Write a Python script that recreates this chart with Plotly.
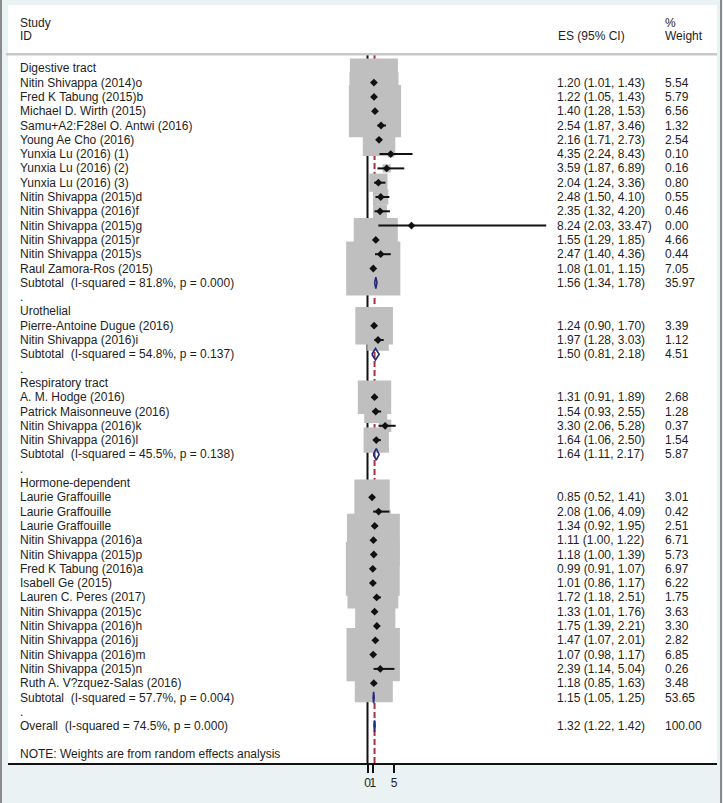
import math

import plotly.graph_objects as go

# ---- data -------------------------------------------------------------
group_names = ["Digestive tract", "Urothelial", "Respiratory tract", "Hormone-dependent"]
group_sizes = [14, 2, 4, 14]

study_labels = [
    "Nitin Shivappa (2014)o", "Fred K Tabung (2015)b", "Michael D. Wirth (2015)",
    "Samu+A2:F28el O. Antwi (2016)", "Young Ae Cho (2016)", "Yunxia Lu (2016) (1)",
    "Yunxia Lu (2016) (2)", "Yunxia Lu (2016) (3)", "Nitin Shivappa (2015)d",
    "Nitin Shivappa (2016)f", "Nitin Shivappa (2015)g", "Nitin Shivappa (2015)r",
    "Nitin Shivappa (2015)s", "Raul Zamora-Ros (2015)",
    "Pierre-Antoine Dugue (2016)", "Nitin Shivappa (2016)i",
    "A. M. Hodge (2016)", "Patrick Maisonneuve (2016)", "Nitin Shivappa (2016)k",
    "Nitin Shivappa (2016)l",
    "Laurie Graffouille", "Laurie Graffouille", "Laurie Graffouille",
    "Nitin Shivappa (2016)a", "Nitin Shivappa (2015)p", "Fred K Tabung (2016)a",
    "Isabell Ge (2015)", "Lauren C. Peres (2017)", "Nitin Shivappa (2015)c",
    "Nitin Shivappa (2016)h", "Nitin Shivappa (2016)j", "Nitin Shivappa (2016)m",
    "Nitin Shivappa (2015)n", "Ruth A. V?zquez-Salas (2016)",
]
study_es = [1.20, 1.22, 1.40, 2.54, 2.16, 4.35, 3.59, 2.04, 2.48, 2.35, 8.24, 1.55, 2.47, 1.08,
            1.24, 1.97,
            1.31, 1.54, 3.30, 1.64,
            0.85, 2.08, 1.34, 1.11, 1.18, 0.99, 1.01, 1.72, 1.33, 1.75, 1.47, 1.07, 2.39, 1.18]
study_lo = [1.01, 1.05, 1.28, 1.87, 1.71, 2.24, 1.87, 1.24, 1.50, 1.32, 2.03, 1.29, 1.40, 1.01,
            0.90, 1.28,
            0.91, 0.93, 2.06, 1.06,
            0.52, 1.06, 0.92, 1.00, 1.00, 0.91, 0.86, 1.18, 1.01, 1.39, 1.07, 0.98, 1.14, 0.85]
study_hi = [1.43, 1.43, 1.53, 3.46, 2.73, 8.43, 6.89, 3.36, 4.10, 4.20, 33.47, 1.85, 4.36, 1.15,
            1.70, 3.03,
            1.89, 2.55, 5.28, 2.50,
            1.41, 4.09, 1.95, 1.22, 1.39, 1.07, 1.17, 2.51, 1.76, 2.21, 2.01, 1.17, 5.04, 1.63]
study_weight = [5.54, 5.79, 6.56, 1.32, 2.54, 0.10, 0.16, 0.80, 0.55, 0.46, 0.00, 4.66, 0.44, 7.05,
                3.39, 1.12,
                2.68, 1.28, 0.37, 1.54,
                3.01, 0.42, 2.51, 6.71, 5.73, 6.97, 6.22, 1.75, 3.63, 3.30, 2.82, 6.85, 0.26, 3.48]

subtotal_i2 = [81.8, 54.8, 45.5, 57.7]
subtotal_p = [0.000, 0.137, 0.138, 0.004]
subtotal_es = [1.56, 1.50, 1.64, 1.15]
subtotal_lo = [1.34, 0.81, 1.11, 1.05]
subtotal_hi = [1.78, 2.18, 2.17, 1.25]
subtotal_weight = [35.97, 4.51, 5.87, 53.65]

overall_i2 = 74.5
overall_p = 0.000
overall_es, overall_lo, overall_hi = 1.32, 1.22, 1.42
overall_weight = 100.00

x_ticks = [0, 1, 5]

# ---- geometry / style ---------------------------------------------------
W, H = 723, 803
M_L, M_R, M_T, M_B = 8, 6, 5, 40
X0_PX, PX_PER_UNIT = 367.5, 5.34
ROW1_PX, ROW_PX = 68.3, 14.3
BOX_K = 20.4          # box side in px = BOX_K * sqrt(weight)
DIA_H = 0.4           # half height of pooled diamonds, in rows

FONT = "Liberation Sans, Arial, sans-serif"
TEXT_COLOR = "#1e1e1e"
NAVY = "#22297a"
RED = "#a5323f"


def paper_x(px):
    return (px - M_L) / (W - M_L - M_R)


def paper_y(py):
    return (H - M_B - py) / (H - M_T - M_B)


def row_of(py):
    return 1 + (py - ROW1_PX) / ROW_PX


# ---- build the table rows ------------------------------------------------
labels, es_text, wt_text, label_rows = [], [], [], []
st_rows, sub_rows = [], []
row = 1
k = 0
for g, name in enumerate(group_names):
    labels.append(name); es_text.append(""); wt_text.append(""); label_rows.append(row)
    row += 1
    for _ in range(group_sizes[g]):
        labels.append(study_labels[k])
        es_text.append(f"{study_es[k]:.2f} ({study_lo[k]:.2f}, {study_hi[k]:.2f})")
        wt_text.append(f"{study_weight[k]:.2f}")
        label_rows.append(row)
        st_rows.append(row)
        row += 1
        k += 1
    labels.append(f"Subtotal\u00a0 (I-squared = {subtotal_i2[g]:.1f}%, p = {subtotal_p[g]:.3f})")
    es_text.append(f"{subtotal_es[g]:.2f} ({subtotal_lo[g]:.2f}, {subtotal_hi[g]:.2f})")
    wt_text.append(f"{subtotal_weight[g]:.2f}")
    label_rows.append(row)
    sub_rows.append(row)
    row += 1
    labels.append("."); es_text.append(""); wt_text.append(""); label_rows.append(row)
    row += 1

overall_row = row
labels.append(f"Overall\u00a0 (I-squared = {overall_i2:.1f}%, p = {overall_p:.3f})")
es_text.append(f"{overall_es:.2f} ({overall_lo:.2f}, {overall_hi:.2f})")
wt_text.append(f"{overall_weight:.2f}")
label_rows.append(row)

fig = go.Figure()

# weight boxes
fig.add_trace(go.Scatter(
    x=study_es, y=st_rows, mode="markers",
    marker=dict(symbol="square", color="#bfbfbf", opacity=1,
                size=[BOX_K * math.sqrt(w) for w in study_weight], line=dict(width=0)),
    hoverinfo="skip",
))

# confidence intervals
ci_x, ci_y = [], []
for lo, hi, r in zip(study_lo, study_hi, st_rows):
    ci_x += [lo, hi, None]
    ci_y += [r, r, None]
fig.add_trace(go.Scatter(x=ci_x, y=ci_y, mode="lines",
                         line=dict(color="#111111", width=2), hoverinfo="skip"))

# point estimates
fig.add_trace(go.Scatter(
    x=study_es, y=st_rows, mode="markers",
    marker=dict(symbol="diamond", color="#111111", size=6, opacity=1, line=dict(width=0)),
    hovertemplate="%{x:.2f}<extra></extra>",
))

# pooled diamonds
d_x, d_y = [], []
for es, lo, hi, r in zip(subtotal_es + [overall_es], subtotal_lo + [overall_lo],
                         subtotal_hi + [overall_hi], sub_rows + [overall_row]):
    d_x += [lo, es, hi, es, lo, None]
    d_y += [r, r - DIA_H, r, r + DIA_H, r, None]
fig.add_trace(go.Scatter(x=d_x, y=d_y, mode="lines",
                         line=dict(color=NAVY, width=1.6), hoverinfo="skip"))

# ---- text columns --------------------------------------------------------
ann = []


def add_text(text, px, r, yref="y"):
    ann.append(dict(text=text, x=paper_x(px), xref="paper", y=r, yref=yref,
                    xanchor="left", yanchor="middle", showarrow=False,
                    font=dict(family=FONT, size=12, color=TEXT_COLOR)))


for lab, es, wt, r in zip(labels, es_text, wt_text, label_rows):
    add_text(lab, 18, r)
    if es:
        add_text(es, 555, r)
        add_text(wt, 663, r)

add_text("Study", 18, row_of(22.7))
add_text("ID", 18, row_of(35.5))
add_text("ES (95% CI)", 556, row_of(35.5))
add_text("%", 663, row_of(22.7))
add_text("Weight", 663, row_of(35.5))
add_text("NOTE: Weights are from random effects analysis", 18, row_of(754))

# ---- lines and frame -----------------------------------------------------
shapes = [
    dict(type="line", xref="x", yref="paper", x0=0, x1=0, y0=0, y1=paper_y(55),
         line=dict(color="#111111", width=2), layer="below"),
    dict(type="line", xref="x", yref="paper", x0=overall_es, x1=overall_es,
         y0=0, y1=paper_y(55), line=dict(color=RED, width=2, dash="6px,3px"), layer="below"),
    dict(type="line", xref="paper", yref="paper", x0=paper_x(6), x1=1,
         y0=paper_y(54.3), y1=paper_y(54.3), line=dict(color="#c8c8c8", width=2.5)),
    dict(type="line", xref="paper", yref="paper", x0=paper_x(1), x1=paper_x(1),
         y0=-1, y1=2, line=dict(color="#8a8a8a", width=2)),
    dict(type="line", xref="paper", yref="paper", x0=paper_x(721), x1=paper_x(721),
         y0=-1, y1=2, line=dict(color="#8a8a8a", width=2)),
]

fig.update_layout(
    width=W, height=H,
    margin=dict(l=M_L, r=M_R, t=M_T, b=M_B),
    paper_bgcolor="#eaf2f3",
    plot_bgcolor="#ffffff",
    showlegend=False,
    annotations=ann,
    shapes=shapes,
    xaxis=dict(
        range=[(M_L - X0_PX) / PX_PER_UNIT, (W - M_R - X0_PX) / PX_PER_UNIT],
        tickvals=x_ticks, ticktext=[str(t) for t in x_ticks], tickangle=0,
        ticks="outside", ticklen=8, tickwidth=2, tickcolor="#111111",
        showline=True, linecolor="#111111", linewidth=2,
        showgrid=False, zeroline=False, fixedrange=True,
        tickfont=dict(family=FONT, size=12, color=TEXT_COLOR),
    ),
    yaxis=dict(
        range=[row_of(H - M_B), row_of(M_T)],
        visible=False, showgrid=False, zeroline=False, fixedrange=True,
    ),
)

# the page body has a default 8px margin; drop it so the figure fills the window
fig.write_html("out.html", config={"displayModeBar": False},
               post_script="document.body.style.margin='0';document.body.style.overflow='hidden';")
